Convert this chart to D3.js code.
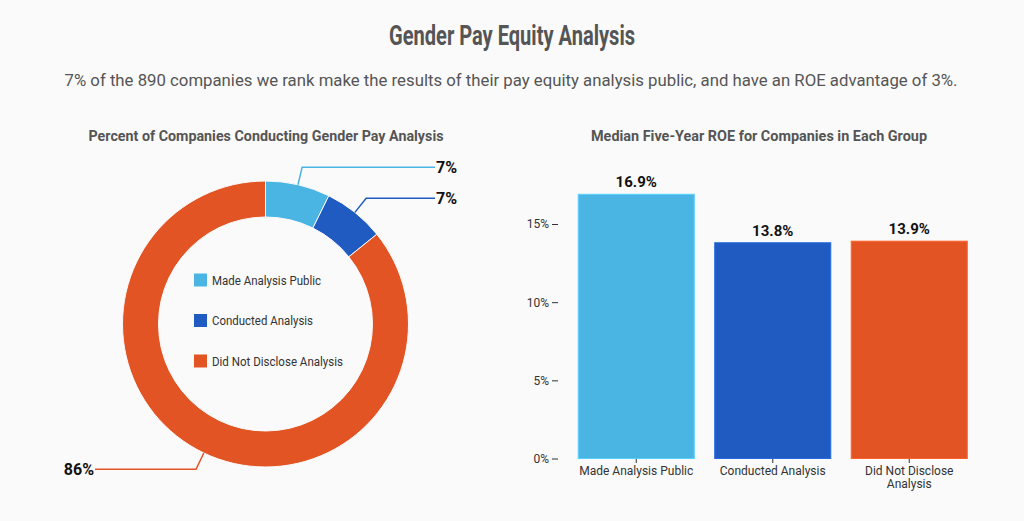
<!DOCTYPE html>
<meta charset='utf-8'>
<div class="chart"></div>
<script src="https://d3js.org/d3.v7.min.js"></script>
<style>
	body { margin: 0; background: #fafafa; }
	text { font-family: Roboto, "Noto Sans", sans-serif; }
	.title { font-size: 28px; font-weight: bold; fill: #555; }
	.subtitle { font-size: 17px; fill: #555; }
	.panel-title { font-size: 14.5px; font-weight: bold; fill: #555; }
	.legend text { font-size: 12.5px; fill: #333; }
	.pct-label { font-size: 16px; font-weight: bold; fill: #111; }
	.bar-label { font-size: 15px; font-weight: bold; fill: #111; }
	.axis text { font-size: 12px; fill: #333; }
	.axis line { stroke: #333; }
</style>
<script>
	// donut data (share of companies, %)
	var groups = ["Made Analysis Public", "Conducted Analysis", "Did Not Disclose Analysis"];
	var shares = [7.3, 6.9, 85.8];
	var shareLabels = ["7%", "7%", "86%"];
	var colors = ["#4ab5e3", "#1f5bc1", "#e35424"];

	// bar data (median five-year ROE, %)
	var barGroups = ["Made Analysis Public", "Conducted Analysis", "Did Not Disclose Analysis"];
	var roe = [16.9, 13.8, 13.9];
	var roeTicks = [0, 5, 10, 15];

	var width = 1024, height = 521;
	var svg = d3.select(".chart")
				.append("svg")
				.attr("width", width)
				.attr("height", height);

	svg.append("rect").attr("width", width).attr("height", height).attr("fill", "#fafafa");

	svg.append("text")
		.attr("class", "title")
		.attr("x", 512).attr("y", 45)
		.attr("text-anchor", "middle")
		.attr("textLength", 246).attr("lengthAdjust", "spacingAndGlyphs")
		.text("Gender Pay Equity Analysis");

	svg.append("text")
		.attr("class", "subtitle")
		.attr("x", 511).attr("y", 86)
		.attr("text-anchor", "middle")
		.attr("textLength", 893).attr("lengthAdjust", "spacingAndGlyphs")
		.text("7% of the 890 companies we rank make the results of their pay equity analysis public, and have an ROE advantage of 3%.");

	svg.append("text")
		.attr("class", "panel-title")
		.attr("x", 266).attr("y", 141)
		.attr("text-anchor", "middle")
		.attr("textLength", 355).attr("lengthAdjust", "spacingAndGlyphs")
		.text("Percent of Companies Conducting Gender Pay Analysis");

	svg.append("text")
		.attr("class", "panel-title")
		.attr("x", 759).attr("y", 141)
		.attr("text-anchor", "middle")
		.attr("textLength", 336).attr("lengthAdjust", "spacingAndGlyphs")
		.text("Median Five-Year ROE for Companies in Each Group");

	// ---- donut ----
	var cx = 265.5, cy = 324, rOuter = 143, rInner = 107, rElbow = 161;
	var pie = d3.pie().sort(null).value(function(d) { return d; });
	var arc = d3.arc().innerRadius(rInner).outerRadius(rOuter);
	var arcs = pie(shares);

	var donut = svg.append("g").attr("transform", "translate(" + cx + "," + cy + ")");
	donut.selectAll("path.slice")
		.data(arcs)
		.enter()
		.append("path")
		.attr("class", "slice")
		.attr("d", arc)
		.attr("fill", function(d, i) { return colors[i]; })
		.attr("stroke", "#fafafa")
		.attr("stroke-width", 1);

	// leader lines: out from slice middle, then horizontal
	var lineEnd = [435 - cx, 435 - cx, 95 - cx];
	function polar(a, r) { return [r * Math.sin(a), -r * Math.cos(a)]; }
	donut.selectAll("path.leader")
		.data(arcs)
		.enter()
		.append("path")
		.attr("class", "leader")
		.attr("fill", "none")
		.attr("stroke", function(d, i) { return colors[i]; })
		.attr("stroke-width", 1.5)
		.attr("d", function(d, i) {
			var a = (d.startAngle + d.endAngle) / 2;
			var p0 = polar(a, rOuter), p1 = polar(a, rElbow);
			return "M" + p0 + "L" + p1 + "L" + lineEnd[i] + "," + p1[1];
		});
	donut.selectAll("text.pct-label")
		.data(arcs)
		.enter()
		.append("text")
		.attr("class", "pct-label")
		.attr("x", function(d, i) { return i < 2 ? lineEnd[i] + 1 : lineEnd[i] - 1; })
		.attr("y", function(d) { return polar((d.startAngle + d.endAngle) / 2, rElbow)[1]; })
		.attr("dy", "0.36em")
		.attr("text-anchor", function(d, i) { return i < 2 ? "start" : "end"; })
		.text(function(d, i) { return shareLabels[i]; });

	// legend in the hole
	var legendWidths = [109, 101, 131];
	var legend = svg.append("g").attr("class", "legend")
		.selectAll("g")
		.data(groups)
		.enter()
		.append("g")
		.attr("transform", function(d, i) { return "translate(194," + (280 + i * 40.5) + ")"; });
	legend.append("rect")
		.attr("y", -6.5).attr("width", 13).attr("height", 13)
		.attr("fill", function(d, i) { return colors[i]; });
	legend.append("text")
		.attr("x", 18).attr("dy", "0.36em")
		.attr("textLength", function(d, i) { return legendWidths[i]; })
		.attr("lengthAdjust", "spacingAndGlyphs")
		.text(function(d) { return d; });

	// ---- bars ----
	var x = d3.scaleBand()
		.domain(barGroups)
		.range([568, 977.5])
		.paddingInner(0.15)
		.paddingOuter(0.075);
	var y = d3.scaleLinear()
		.domain([0, 15])
		.range([458.5, 224]);

	svg.append("g")
		.selectAll("rect")
		.data(roe)
		.enter()
		.append("rect")
		.attr("x", function(d, i) { return x(barGroups[i]); })
		.attr("y", function(d) { return y(d); })
		.attr("width", x.bandwidth())
		.attr("height", function(d) { return y(0) - y(d); })
		.attr("fill", function(d, i) { return colors[i]; })
		.attr("stroke", function(d, i) { return d3.color(colors[i]).brighter(0.4); })
		.attr("stroke-width", 1);

	svg.append("g")
		.selectAll("text")
		.data(roe)
		.enter()
		.append("text")
		.attr("class", "bar-label")
		.attr("x", function(d, i) { return x(barGroups[i]) + x.bandwidth() / 2; })
		.attr("y", function(d) { return y(d) - 7; })
		.attr("text-anchor", "middle")
		.text(function(d) { return d.toFixed(1) + "%"; });

	var yAxis = svg.append("g")
		.attr("class", "axis")
		.attr("transform", "translate(558,0)")
		.call(d3.axisLeft(y).tickValues(roeTicks).tickSize(6).tickPadding(3)
			.tickFormat(function(d) { return d + "%"; }));
	yAxis.select(".domain").remove();

	var xAxis = svg.append("g")
		.attr("class", "axis")
		.attr("transform", "translate(0,459)")
		.call(d3.axisBottom(x).tickSize(4).tickPadding(3).tickFormat(""));
	xAxis.select(".domain").remove();

	// x labels, wrapped like the original
	var xLabelLines = [["Made Analysis Public"], ["Conducted Analysis"], ["Did Not Disclose", "Analysis"]];
	svg.append("g")
		.attr("class", "axis")
		.selectAll("text")
		.data(barGroups)
		.enter()
		.append("text")
		.attr("x", function(d) { return x(d) + x.bandwidth() / 2; })
		.attr("y", 475)
		.attr("text-anchor", "middle")
		.each(function(d, i) {
			var t = d3.select(this);
			xLabelLines[i].forEach(function(line, j) {
				t.append("tspan")
					.attr("x", x(d) + x.bandwidth() / 2)
					.attr("dy", j === 0 ? 0 : 12.5)
					.text(line);
			});
		});
</script>
